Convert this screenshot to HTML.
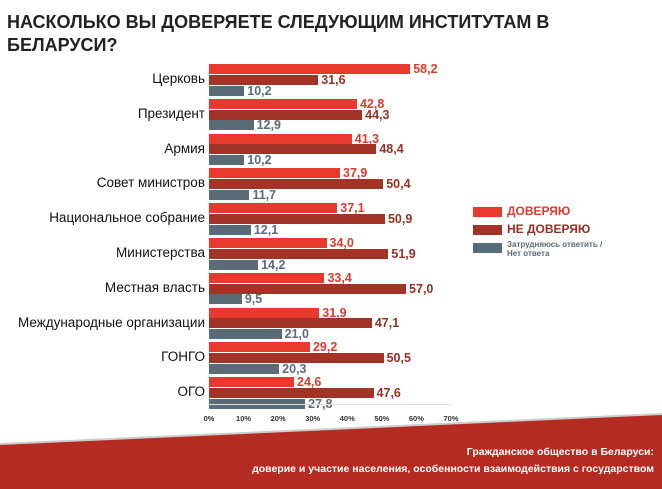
<!DOCTYPE html><html><head><meta charset="utf-8"><style>
body{margin:0;width:662px;height:489px;background:#fff;position:relative;overflow:hidden;font-family:"Liberation Sans",sans-serif}
.a{position:absolute}
.t{font-weight:bold;font-size:18px;color:#222;left:7px;line-height:23px}
.lab{right:457px;font-size:13.5px;color:#111;white-space:nowrap;text-align:right}
.v{font-weight:bold;font-size:12.5px;line-height:12px}
.tk{font-size:7.5px;font-weight:bold;color:#333;top:414px;width:30px;text-align:center}
</style></head><body>
<div class="a t" style="top:11px">НАСКОЛЬКО ВЫ ДОВЕРЯЕТЕ СЛЕДУЮЩИМ ИНСТИТУТАМ В<br>БЕЛАРУСИ?</div>
<div id="c"></div>
<div class="a" style="left:209px;top:404px;width:243px;height:1px;background:#ddd"></div>
<div class="a" style="left:473px;top:207px;width:29px;height:10px;background:#e8392e"></div>
<div class="a" style="left:473px;top:225px;width:29px;height:10px;background:#a33327"></div>
<div class="a" style="left:473px;top:243px;width:29px;height:10px;background:#5a6b78"></div>
<div class="a" style="left:507px;top:204px;font-weight:bold;font-size:12px;color:#e0392d">ДОВЕРЯЮ</div>
<div class="a" style="left:507px;top:222px;font-weight:bold;font-size:12px;color:#9a2e22">НЕ ДОВЕРЯЮ</div>
<div class="a" style="left:507px;top:240px;font-weight:bold;font-size:8px;line-height:9px;color:#5a6b78">Затрудняюсь ответить /<br>Нет ответа</div>
<svg class="a" style="left:0;top:0" width="662" height="489"><path d="M0 444 Q330 430 662 414 L662 489 L0 489Z" fill="#b52b22"/><path d="M0 444 Q330 430 662 414" stroke="#ccc" stroke-width="2" fill="none"/></svg>
<div class="a" style="right:8px;top:444px;text-align:right;color:#fff;font-weight:bold;font-size:10.5px;line-height:17px">Гражданское общество в Беларуси:<br>доверие и участие населения, особенности взаимодействия с государством</div>
<script>
var d=[["Церковь",58.2,31.6,10.2],["Президент",42.8,44.3,12.9],["Армия",41.3,48.4,10.2],["Совет министров",37.9,50.4,11.7],["Национальное собрание",37.1,50.9,12.1],["Министерства",34.0,51.9,14.2],["Местная власть",33.4,57.0,9.5],["Международные организации",31.9,47.1,21.0],["ГОНГО",29.2,50.5,20.3],["ОГО",24.6,47.6,27.8]];
var col=["#e8392e","#a33327","#5a6b78"],tc=["#e0392d","#9a2e22","#5a6b78"],h="";
d.forEach(function(r,i){var y=64+i*34.8;
h+='<div class="a lab" style="top:'+(y+7)+'px">'+r[0]+'</div>';
for(var k=0;k<3;k++){var w=r[k+1]*3.457,yy=y+k*10.8;
h+='<div class="a" style="left:209px;top:'+yy+'px;width:'+w+'px;height:10px;background:'+col[k]+'"></div>';
h+='<div class="a v" style="left:'+(212+w)+'px;top:'+(yy-1)+'px;color:'+tc[k]+'">'+r[k+1].toFixed(1).replace(".",",")+'</div>';}});
for(var j=0;j<8;j++)h+='<div class="a tk" style="left:'+(209+j*34.57-15)+'px">'+j*10+'%</div>';
document.getElementById("c").innerHTML=h;
</script>
</body></html>
